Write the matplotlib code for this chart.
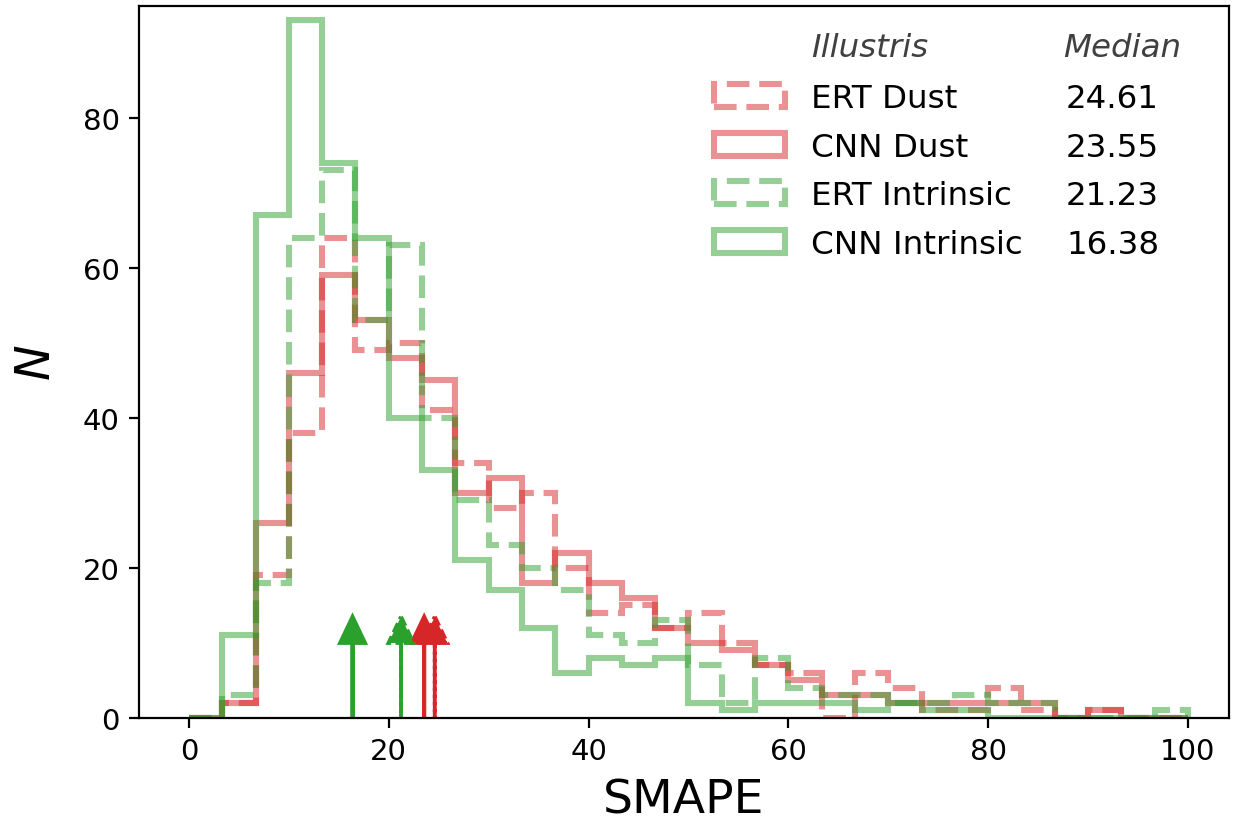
import numpy as np
import matplotlib
matplotlib.use('Agg')
import matplotlib.pyplot as plt

# 30 equal bins of SMAPE between 0 and 100
bin_edges = np.linspace(0, 100, 31)

# counts per bin
ert_dust = [0, 2, 19, 38, 64, 49, 50, 41, 34, 28, 30, 20, 14, 15, 12,
            14, 10, 7, 6, 0, 6, 4, 1, 1, 4, 1, 0, 1, 0, 0]
cnn_dust = [0, 2, 26, 46, 59, 53, 48, 45, 30, 32, 18, 22, 18, 16, 12,
            10, 9, 7, 5, 3, 3, 2, 2, 2, 2, 2, 0, 1, 0, 0]
ert_intr = [0, 3, 18, 64, 73, 53, 63, 40, 29, 23, 20, 17, 11, 10, 13,
            7, 2, 8, 4, 3, 3, 2, 2, 3, 2, 2, 0, 0, 0, 1]
cnn_intr = [0, 11, 67, 93, 74, 64, 40, 33, 21, 17, 12, 6, 8, 7, 8,
            2, 1, 2, 2, 2, 1, 2, 1, 1, 0, 0, 0, 0, 0, 0]

labels = ['ERT Dust', 'CNN Dust', 'ERT Intrinsic', 'CNN Intrinsic']
medians = [24.61, 23.55, 21.23, 16.38]
colors = ['tab:red', 'tab:red', 'tab:green', 'tab:green']
styles = ['--', '-', '--', '-']

fig = plt.figure(figsize=(6.17, 4.145), dpi=200)
ax = fig.add_axes([0.1126, 0.1327, 0.8833, 0.8589])

centers = 0.5 * (bin_edges[:-1] + bin_edges[1:])
for counts, lab, c, ls in zip([ert_dust, cnn_dust, ert_intr, cnn_intr], labels, colors, styles):
    ax.hist(centers, bins=bin_edges, weights=counts, histtype='step',
            color=c, alpha=0.5, lw=2.2, ls=ls, label=lab)

# median arrows
for m, c, ls in zip(medians, colors, styles):
    dash = (0, (2.6, 1.1)) if ls == '--' else '-'
    ax.arrow(m, 0, 0, 10, head_width=2.5, head_length=3.5, color=c,
             lw=1.4, ls=dash, length_includes_head=False)

ax.set_xlim(-5, 104.1)
ax.set_ylim(0, 94.9)
ax.set_xticks([0, 20, 40, 60, 80, 100])
ax.set_yticks([0, 20, 40, 60, 80])
ax.tick_params(labelsize=10.5)
ax.set_xlabel('SMAPE', fontsize=17, labelpad=4.5)
ax.set_ylabel('$N$', fontsize=17.2, labelpad=8)

leg = ax.legend(loc='upper left', bbox_to_anchor=(0.5156, 0.910), frameon=False,
                fontsize=11.7, labelspacing=0.54, handlelength=2.2,
                borderpad=0.4, borderaxespad=0)

# median column lined up with the legend rows
fig.canvas.draw()
inv = ax.transAxes.inverted()
for t, m in zip(leg.get_texts(), medians):
    bb = t.get_window_extent()
    x0, y0 = inv.transform((bb.x0, 0.5 * (bb.y0 + bb.y1)))
    ax.text(0.8505, y0, f'{m:.2f}', transform=ax.transAxes, fontsize=11.7,
            ha='left', va='center')

bb = leg.get_texts()[0].get_window_extent()
xl, _ = inv.transform((bb.x0, bb.y0))
ax.text(xl, 0.942, 'Illustris', transform=ax.transAxes, fontsize=11.7,
        style='italic', color='0.25', ha='left', va='center')
ax.text(0.848, 0.942, 'Median', transform=ax.transAxes, fontsize=11.7,
        style='italic', color='0.25', ha='left', va='center')

fig.savefig('out.png', dpi=200)
